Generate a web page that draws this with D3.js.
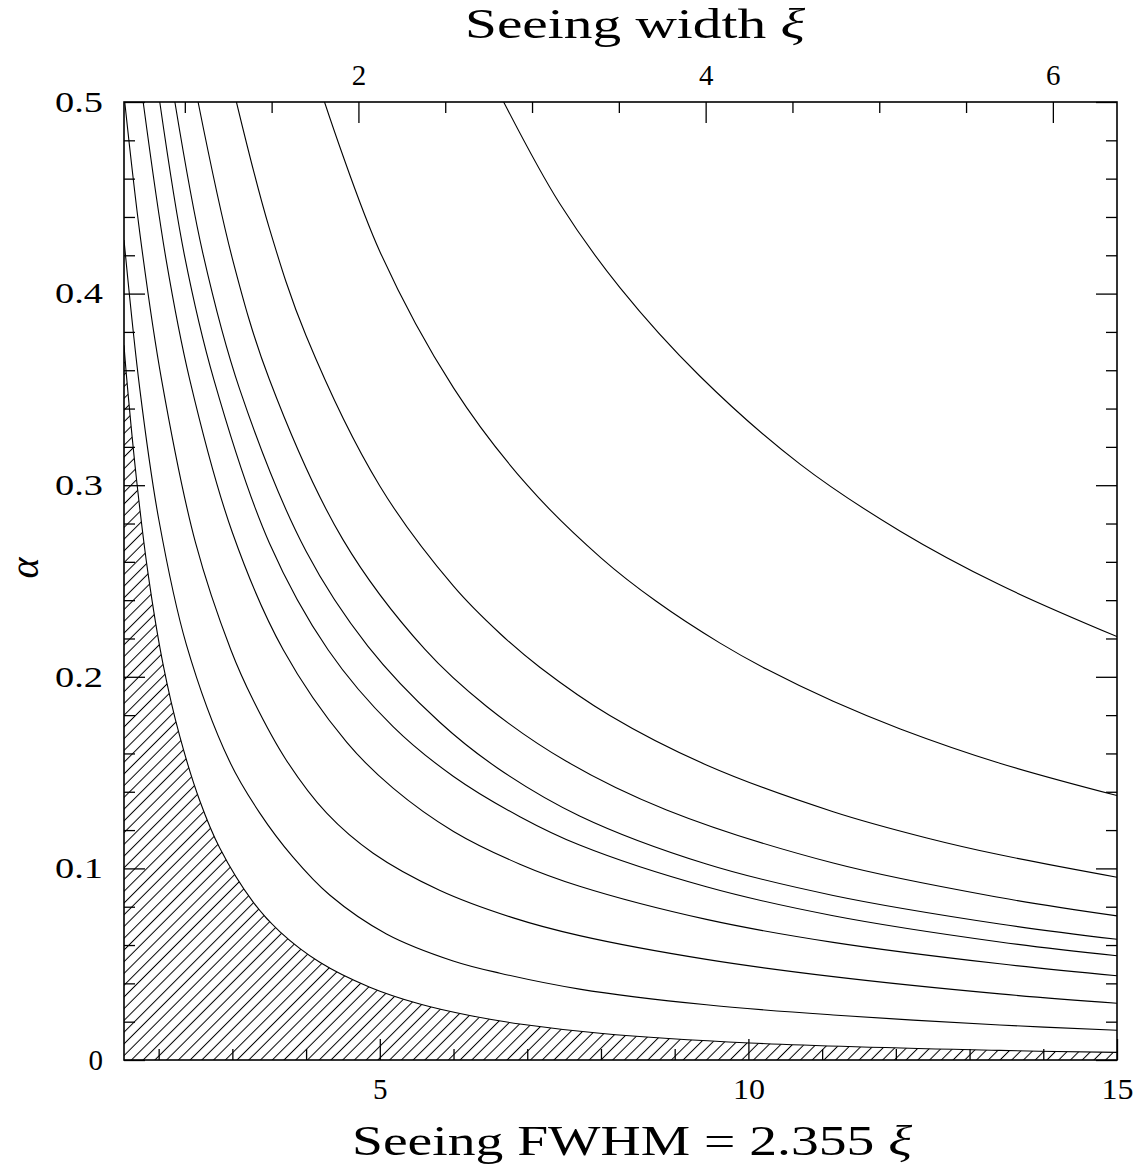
<!DOCTYPE html>
<html><head><meta charset="utf-8">
<script src="https://cdn.jsdelivr.net/npm/d3@7"></script>
<style>body{margin:0;background:#fff}</style>
</head><body>
<svg id="chart" width="1146" height="1168"></svg>
<script>
// ---------- data ----------
const fwhmMajorTicks = [5, 10, 15];
const fwhmMinorTicks = [2, 3, 4, 6, 7, 8, 9, 11, 12, 13, 14];
const xiMajorTicks = [2, 4, 6];
const xiMinorTicks = [1, 1.5, 2.5, 3, 3.5, 4.5, 5, 5.5];
const alphaMajorTicks = [0, 0.1, 0.2, 0.3, 0.4, 0.5];
const alphaMajorLabels = ["0", "0.1", "0.2", "0.3", "0.4", "0.5"];
const alphaMinorTicks = [0.02,0.04,0.06,0.08,0.12,0.14,0.16,0.18,0.22,0.24,0.26,0.28,0.32,0.34,0.36,0.38,0.42,0.44,0.46,0.48];
const fwhmDomain = [1.53, 15];
const alphaDomain = [0, 0.5];
const fwhmPerXi = 2.355;
const xLabelText = "Seeing FWHM = 2.355 ";
const topLabelText = "Seeing width ";
const xiSymbol = "ξ";
const yLabel = "α";

// curves: [FWHM, alpha]
const curve1 = [[6.68,0.5],[7.44,0.447],[8.26,0.403],[9.34,0.357],[10.7,0.311],[12.06,0.276],[13.41,0.248],[15,0.221]];
const curve2 = [[4.25,0.5],[5.0,0.422],[6.0,0.3508],[7.0,0.300],[8.0,0.2621],[8.75,0.2394],[9.61,0.2177],[10.25,0.2039],[11.15,0.1872],[12.06,0.1728],[13.41,0.1549],[15,0.138]];
const curve3 = [[3.055,0.5],[3.5,0.4343],[4.0,0.378],[5.0,0.2996],[6.0,0.2473],[6.63,0.2226],[7.17,0.205],[8.12,0.1798],[9.43,0.154],[11.15,0.1296],[12.42,0.1159],[13.41,0.1071],[15,0.0954]];
const curve4 = [[2.535,0.5],[3.0,0.4183],[3.5,0.3554],[4.5,0.2716],[5.61,0.2144],[6.45,0.1845],[7.53,0.1559],[8.89,0.1305],[11.15,0.1028],[13.41,0.0848],[15,0.0752]];
const curve5 = [[2.22,0.5],[2.6,0.421],[3.1,0.350],[4.0,0.2655],[4.84,0.2159],[5.81,0.1764],[6.6,0.1523],[7.71,0.1274],[9.43,0.1023],[11.15,0.0859],[13.41,0.0710],[15,0.063]];
const curve6 = [[2.015,0.5],[2.35,0.42],[2.75,0.355],[3.5,0.27],[4.30,0.214],[5.18,0.174],[6.0,0.148],[6.9,0.127],[7.71,0.1122],[9.43,0.0904],[11.15,0.0753],[13.41,0.0616],[15,0.0544]];
const curve7 = [[1.79,0.5],[2.1,0.418],[2.42,0.3554],[3.0,0.2753],[3.69,0.2141],[4.55,0.1659],[5.18,0.1419],[6.0,0.1193],[6.9,0.1022],[7.71,0.0907],[9.43,0.0734],[11.15,0.0614],[13.41,0.0502],[15,0.044]];
const curve8 = [[1.54,0.5],[1.75,0.43],[2.04,0.355],[2.5,0.27],[2.98,0.214],[3.28,0.188],[3.73,0.1566],[4.28,0.1288],[4.91,0.1079],[5.81,0.0886],[6.8,0.0743],[7.71,0.0649],[9.43,0.0525],[11.15,0.0435],[13.41,0.0345],[15,0.0296]];
const curve9 = [[1.53,0.428],[1.745,0.35],[2.0,0.2825],[2.377,0.2167],[2.96,0.156],[3.37,0.129],[3.82,0.106],[4.32,0.0861],[5.09,0.0658],[5.995,0.0517],[6.63,0.0453],[7.71,0.0370],[9.43,0.0288],[11.15,0.0235],[13.41,0.0183],[15,0.0155]];
const boundaryCurve = [[1.53,0.373],[1.566,0.356],[1.70,0.303],[1.856,0.254],[2.06,0.2065],[2.286,0.169],[2.558,0.1353],[2.829,0.1106],[3.28,0.0825],[3.643,0.0670],[4.186,0.0510],[4.864,0.0380],[5.543,0.0292],[6.22,0.0232],[6.9,0.0188],[7.985,0.0140],[10.02,0.0089],[13.41,0.0050],[15,0.0040]];
const curves = [curve1, curve2, curve3, curve4, curve5, curve6, curve7, curve8, curve9];

// ---------- layout ----------
const L = 124, R = 1117, T = 102, B = 1060;
const FONT = "'Liberation Serif', 'DejaVu Serif', serif";

const svg = d3.select("#chart");
const x = d3.scaleLinear().domain(fwhmDomain).range([L, R]);
const xXi = d3.scaleLinear().domain(fwhmDomain.map(d => d / fwhmPerXi)).range([L, R]);
const y = d3.scaleLinear().domain(alphaDomain).range([B, T]);

const defs = svg.append("defs");
defs.append("clipPath").attr("id", "plotclip")
  .append("rect").attr("x", L).attr("y", T).attr("width", R - L).attr("height", B - T);
const pat = defs.append("pattern").attr("id", "hatch")
  .attr("patternUnits", "userSpaceOnUse")
  .attr("width", 8.3).attr("height", 8.3)
  .attr("patternTransform", "rotate(45)");
pat.append("line").attr("x1", 4.15).attr("y1", -1).attr("x2", 4.15).attr("y2", 9.3)
  .attr("stroke", "#000").attr("stroke-width", 1);

const plot = svg.append("g").attr("clip-path", "url(#plotclip)");
const smooth = d3.curveCatmullRom.alpha(0.5);

// hatched region
const area = d3.area().x(d => x(d[0])).y0(y(0)).y1(d => y(d[1])).curve(smooth);
plot.append("path").datum(boundaryCurve).attr("d", area).attr("fill", "url(#hatch)");

const line = d3.line().x(d => x(d[0])).y(d => y(d[1])).curve(smooth);
plot.selectAll("path.curve").data(curves.concat([boundaryCurve])).join("path")
  .attr("class", "curve").attr("d", line)
  .attr("fill", "none").attr("stroke", "#000").attr("stroke-width", 1.1);

// ---------- axes ----------
function styleAxis(g) {
  g.select(".domain").remove();
  g.selectAll(".tick line").attr("stroke", "#000").attr("stroke-width", 1.3);
  g.selectAll("text").attr("font-family", FONT).attr("font-size", 29).attr("fill", "#000");
}
function stretch(g) {
  g.selectAll("text").each(function() {
    const t = d3.select(this).text();
    if (t.length > 1) d3.select(this).attr("textLength", t.length * 16).attr("lengthAdjust", "spacingAndGlyphs");
  });
}

// bottom
svg.append("g").attr("transform", `translate(0,${B})`)
  .call(d3.axisBottom(x).tickValues(fwhmMajorTicks).tickSize(-21).tickPadding(18).tickFormat(d3.format("d")))
  .call(styleAxis).call(stretch);
svg.append("g").attr("transform", `translate(0,${B})`)
  .call(d3.axisBottom(x).tickValues(fwhmMinorTicks).tickSize(-11).tickFormat(""))
  .call(styleAxis);

// top (xi)
svg.append("g").attr("transform", `translate(0,${T})`)
  .call(d3.axisTop(xXi).tickValues(xiMajorTicks).tickSize(-21).tickPadding(17).tickFormat(d3.format("d")))
  .call(styleAxis).call(stretch);
svg.append("g").attr("transform", `translate(0,${T})`)
  .call(d3.axisTop(xXi).tickValues(xiMinorTicks).tickSize(-11).tickFormat(""))
  .call(styleAxis);

// left
svg.append("g").attr("transform", `translate(${L},0)`)
  .call(d3.axisLeft(y).tickValues(alphaMajorTicks).tickSize(-21).tickPadding(21)
    .tickFormat((d, i) => alphaMajorLabels[i]))
  .call(styleAxis).call(stretch);
svg.append("g").attr("transform", `translate(${L},0)`)
  .call(d3.axisLeft(y).tickValues(alphaMinorTicks).tickSize(-11).tickFormat(""))
  .call(styleAxis);

// right
svg.append("g").attr("transform", `translate(${R},0)`)
  .call(d3.axisRight(y).tickValues(alphaMajorTicks).tickSize(-21).tickFormat(""))
  .call(styleAxis);
svg.append("g").attr("transform", `translate(${R},0)`)
  .call(d3.axisRight(y).tickValues(alphaMinorTicks).tickSize(-11).tickFormat(""))
  .call(styleAxis);

// frame
svg.append("rect").attr("x", L).attr("y", T).attr("width", R - L).attr("height", B - T)
  .attr("fill", "none").attr("stroke", "#000").attr("stroke-width", 1.6);

// ---------- titles ----------
const bt = svg.append("text").attr("x", 352).attr("y", 1155)
  .attr("font-family", FONT).attr("font-size", 43).attr("fill", "#000")
  .attr("textLength", 560).attr("lengthAdjust", "spacingAndGlyphs");
bt.append("tspan").text(xLabelText);
bt.append("tspan").attr("font-style", "italic").text(xiSymbol);

const tt = svg.append("text").attr("x", 465).attr("y", 38)
  .attr("font-family", FONT).attr("font-size", 42).attr("fill", "#000")
  .attr("textLength", 340).attr("lengthAdjust", "spacingAndGlyphs");
tt.append("tspan").text(topLabelText);
tt.append("tspan").attr("font-style", "italic").text(xiSymbol);

svg.append("text").attr("transform", "translate(38,568) rotate(-90)")
  .attr("text-anchor", "middle")
  .attr("font-family", FONT).attr("font-size", 40).attr("font-style", "italic").attr("fill", "#000")
  .text(yLabel);
</script>
</body></html>
